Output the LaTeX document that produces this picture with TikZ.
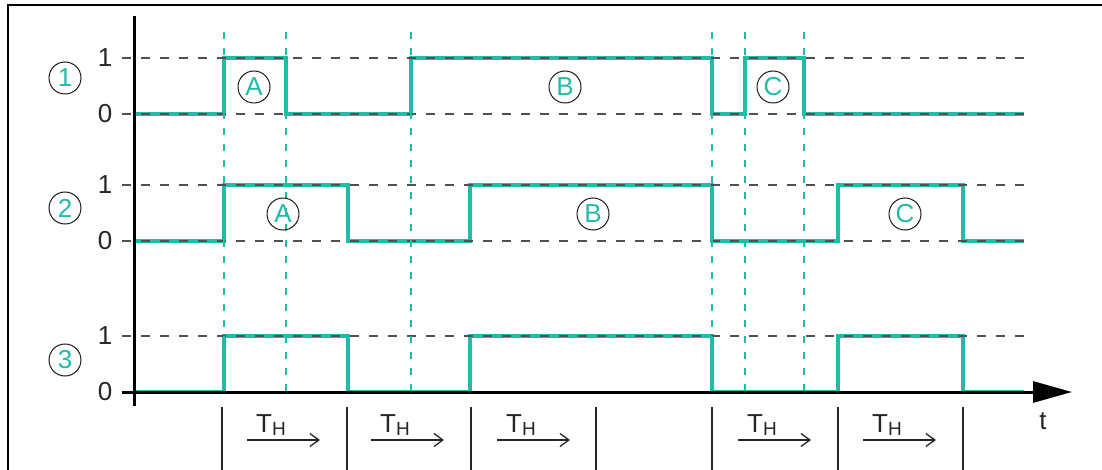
\documentclass[tikz,border=0pt]{standalone}
\usepackage{fontspec}
\setmainfont{Liberation Sans}
\usetikzlibrary{arrows.meta}
\definecolor{teal1}{RGB}{34,187,168}
\definecolor{gridc}{RGB}{80,80,80}
\begin{document}
\begin{tikzpicture}[x=1pt,y=-1pt,
  sig/.style={teal1, line width=4.5pt, line join=miter},
  lvl/.style={gridc, line width=1.1pt, dash pattern=on 9pt off 10pt},
  vguide/.style={teal1, line width=1.3pt, dash pattern=on 7pt off 9pt},
  circ/.style={circle, draw=black!90, line width=1pt, minimum size=32pt, inner sep=0pt, text=teal1, font=\fontsize{26}{26}\selectfont},
  lab/.style={inner sep=0pt, text=black!85, font=\fontsize{26}{26}\selectfont},
  tickl/.style={black!85, line width=1.4pt},
  tharrow/.style={-{Straight Barb[length=9pt,width=13pt]}, line width=1.3pt, black!85},
  thlab/.style={inner sep=0pt, anchor=base west, text=black!85, font=\fontsize{26}{26}\selectfont},
]
\useasboundingbox (0,0) rectangle (1102,470);
% frame
\draw[line width=1.3pt] (8,470) -- (8,5) -- (1102,5);
% signals
\draw[sig] (134,114) -| (224,58) -| (286,114) -| (411,58) -| (712,114) -| (745,58) -| (804,114) -- (1024,114);
\draw[sig] (134,241) -| (224,185) -| (348,241) -| (470,185) -| (712,241) -| (838,185) -| (963,241) -- (1024,241);
\draw[sig] (134,392) -| (224,336) -| (348,392) -| (470,336) -| (712,392) -| (838,336) -| (963,392) -- (1024,392);
% level lines
\foreach \yy in {58,114,185,241,336}
  \draw[lvl] (122,\yy) -- (1026,\yy);
% vertical guides
\foreach \xx in {224,286,411,712,745,804}
  \draw[vguide] (\xx,32) -- (\xx,392);
% axes
\draw[line width=3pt] (134,16) -- (134,406);
\draw[line width=3pt, -{Triangle[length=39pt,width=21pt]}] (122,392) -- (1072,392);
\node[lab] (tlab) at (1043,421) {t};
% level labels
\node[lab] (l1a) at (105,58) {1};
\node[lab] (l0a) at (105,114) {0};
\node[lab] (l1b) at (105,185) {1};
\node[lab] (l0b) at (105,241) {0};
\node[lab] (l1c) at (105,336) {1};
\node[lab] (l0c) at (105,392) {0};
% row numbers
\node[circ] (r1) at (65,78) {1};
\node[circ] (r2) at (65,208) {2};
\node[circ] (r3) at (65,360) {3};
% pulse labels
\node[circ] (a1) at (254,87) {A};
\node[circ] (b1) at (565,87) {B};
\node[circ] (c1) at (773,87) {C};
\node[circ] (a2) at (283,214) {A};
\node[circ] (b2) at (593,214) {B};
\node[circ] (c2) at (905,214) {C};
% bottom ticks
\foreach \xx in {222,347,471,596,712,838,963}
  \draw[tickl] (\xx,407) -- (\xx,470);
% T_H arrows
\foreach \xs [count=\i] in {247,371,497,738,863} {
  \coordinate (s\i) at (\xs,440);
  \coordinate (e\i) at (\xs+73,440);
  \draw[tharrow] (s\i) -- (e\i);
  \node[thlab] (th\i) at (\xs+9,432) {T\raisebox{-3pt}{\fontsize{19}{19}\selectfont H}};
}
\end{tikzpicture}
\end{document}
